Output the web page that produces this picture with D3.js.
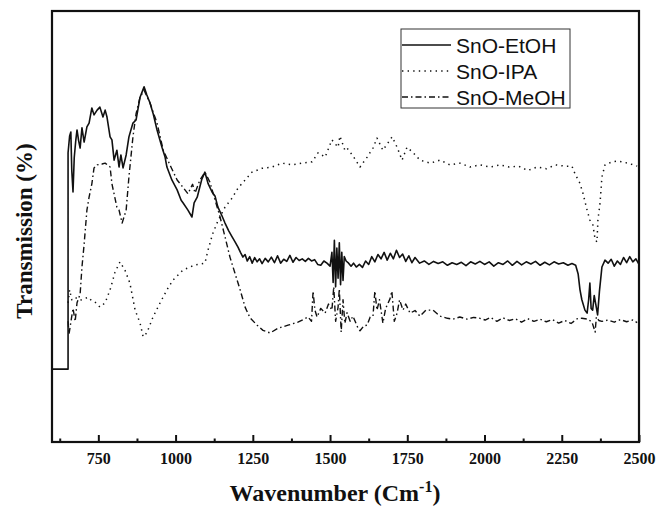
<!DOCTYPE html>
<html>
<head>
<meta charset="utf-8">
<script src="https://cdn.jsdelivr.net/npm/d3@7"></script>
<style>
  body { margin: 0; background: #fff; }
  svg { display: block; }
</style>
</head>
<body>
<svg id="chart" width="658" height="506"></svg>
<script>
// FTIR spectra, values (arbitrary transmission units)
const seriesNames = ["SnO-EtOH", "SnO-IPA", "SnO-MeOH"];
const majorTicks = [750, 1000, 1250, 1500, 1750, 2000, 2250, 2500];
const minorTicks = [625, 875, 1125, 1375, 1625, 1875, 2125, 2375];

const etoh = [[600,16.9],[652,16.9],[652,67.1],[657,71],[661,71.9],[664,63],[668,58.0],[672,66],[677,70],[681,72.4],[686,70],[691,68.2],[697,72.9],[704,69.6],[713,73.1],[720,74.0],[729,77.5],[736,75.9],[746,77.0],[755,77.7],[765,75.4],[772,77.0],[778,75.4],[788,70.8],[794,70.1],[801,65.4],[810,67.7],[817,63.8],[823,66.6],[830,63.6],[840,66.6],[849,70.8],[862,74.0],[872,74.7],[885,80.0],[898,82.4],[907,80.5],[917,78.7],[927,76.3],[940,72.4],[956,68.4],[966,66.1],[972,63.8],[988,60.8],[1005,58.5],[1018,56.1],[1024,55.5],[1040,53.8],[1053,52.2],[1060,55.5],[1070,56.8],[1085,61],[1095,62.6],[1105,60],[1118,58.0],[1128,57],[1137,54.5],[1150,52.5],[1160,50.8],[1172,49],[1183,47.6],[1192,46.5],[1202,45.2],[1210,44],[1218,42.9],[1225,43.5],[1232,42.0],[1240,43.0],[1248,41.5],[1256,42.8],[1264,41.8],[1272,42.5],[1280,41.4],[1290,42.6],[1300,41.8],[1310,42.9],[1320,41.6],[1330,43.2],[1340,41.5],[1350,42.4],[1360,41.9],[1370,43.3],[1380,41.7],[1390,42.8],[1400,42.1],[1410,42.5],[1420,41.9],[1430,42.6],[1440,42.0],[1450,42.3],[1460,41.2],[1470,41.0],[1480,42.0],[1490,41.5],[1500,40.8],[1506,44],[1510,37],[1514,46.8],[1518,36],[1522,45],[1526,38],[1530,46.2],[1534,36.5],[1538,44],[1542,37.5],[1546,43],[1552,42],[1560,41.5],[1568,40.8],[1576,41.5],[1585,40.6],[1595,41.2],[1605,40.5],[1615,42.0],[1625,41.2],[1635,43.0],[1645,41.8],[1655,43.5],[1665,42.5],[1675,44.0],[1685,42.2],[1695,43.8],[1705,42.5],[1715,44.5],[1725,42.8],[1735,43.6],[1745,41.9],[1755,43.2],[1765,41.6],[1775,42.8],[1790,41.5],[1805,42.0],[1820,41.2],[1835,41.9],[1850,41.4],[1865,41.8],[1880,41.0],[1895,41.6],[1910,41.2],[1925,41.7],[1940,40.9],[1955,41.8],[1970,41.3],[1985,41.9],[2000,41.2],[2015,41.8],[2030,40.8],[2045,41.6],[2060,41.2],[2075,42.0],[2090,41.0],[2105,41.9],[2120,41.1],[2135,41.8],[2150,41.3],[2165,41.9],[2180,41.0],[2195,41.7],[2210,41.1],[2225,41.8],[2240,41.3],[2255,41.6],[2270,41.0],[2283,41.4],[2295,41.0],[2303,39],[2309,35.3],[2315,33],[2325,30.6],[2332,29.9],[2337,33],[2341,36.9],[2345,31],[2350,30.6],[2355,34],[2360,32],[2366,29.5],[2372,35],[2380,40.6],[2390,42.2],[2400,41.5],[2410,42.4],[2420,40.8],[2430,42.0],[2440,41.2],[2450,42.8],[2460,41.6],[2470,43.0],[2480,41.8],[2490,42.5],[2500,41.2]];

const ipa = [[652,32.3],[657,35.3],[664,33.0],[674,33.6],[691,32.9],[704,33.2],[717,33.6],[728,32.8],[739,32.5],[755,31.3],[772,32.3],[788,35.3],[804,39.4],[820,41.8],[836,39.9],[852,36.9],[869,30.6],[885,27.6],[895,24.4],[907,25.3],[927,29.0],[950,32.3],[972,35.3],[992,37.6],[1024,39.9],[1063,41.1],[1079,41.3],[1095,41.5],[1105,44.5],[1120,48.3],[1137,51.3],[1160,54.5],[1183,56.6],[1202,58.9],[1225,60.8],[1247,62.6],[1280,63.5],[1312,63.8],[1344,64.7],[1377,64.3],[1409,64.7],[1442,65.0],[1461,67.1],[1484,66.1],[1506,70.1],[1526,68.4],[1532,71],[1548,67.7],[1555,68.2],[1574,66.4],[1597,63.8],[1620,66.1],[1639,68.2],[1652,70.5],[1671,67.7],[1701,70.8],[1717,68.4],[1733,65.4],[1749,68.4],[1768,67.2],[1791,65.4],[1824,64.7],[1856,65.4],[1888,64.3],[1921,64.7],[1953,63.8],[1985,64.3],[2018,63.8],[2050,64.3],[2080,63.8],[2110,64.0],[2140,63.0],[2170,63.8],[2200,63.4],[2230,64.3],[2260,64.0],[2283,64.0],[2293,62.2],[2309,60.0],[2319,57.6],[2332,53.8],[2341,51.5],[2351,50.3],[2358,47],[2364,46.4],[2367,51.5],[2374,55.5],[2380,61.5],[2390,64.3],[2413,65.0],[2432,65.2],[2464,64.7],[2494,64.0]];

const meoh = [[652,28],[655,25],[661,27.8],[668,31],[675,28],[681,32.3],[691,34.3],[697,40.6],[704,45.9],[713,53.8],[720,56.8],[729,59.9],[736,63.6],[746,64.3],[762,64.5],[772,64.7],[788,63.8],[794,59.9],[810,54.5],[817,53.8],[827,50.8],[840,53.8],[849,61.5],[862,70.8],[872,76.1],[885,80.0],[898,81.6],[917,78.7],[940,74.0],[960,67.7],[985,63.8],[1005,60.8],[1024,59.1],[1040,57.6],[1055,59.8],[1063,57.8],[1079,60.8],[1095,62.6],[1111,60.3],[1128,56.1],[1144,52.2],[1160,47.6],[1176,42.9],[1192,39.2],[1209,35.3],[1225,31.3],[1241,28.8],[1264,27.1],[1283,25.9],[1306,25.3],[1332,26.4],[1364,27.1],[1396,27.8],[1429,29.0],[1440,28],[1445,35],[1451,30.6],[1458,29],[1470,31],[1484,29.9],[1495,32],[1506,30.6],[1512,36],[1518,28],[1526,31.3],[1530,35.5],[1536,25.5],[1542,33],[1548,27.5],[1555,30],[1565,28],[1574,29.2],[1590,26.5],[1597,25.8],[1610,27],[1620,27.1],[1630,29],[1639,29.2],[1645,35],[1652,30.6],[1660,33],[1671,27.6],[1680,31],[1694,33.2],[1700,35],[1708,28],[1717,29.9],[1725,33],[1736,30.6],[1745,32],[1759,29.9],[1775,30.5],[1791,29.2],[1810,30.6],[1833,30.6],[1856,29.2],[1880,28.7],[1898,28.5],[1920,29.0],[1943,28.5],[1965,28.9],[1985,28.7],[2002,28.3],[2020,28.9],[2040,28.0],[2060,28.8],[2080,28.2],[2100,28.6],[2120,27.8],[2140,28.6],[2160,28.0],[2180,28.5],[2200,27.9],[2220,28.4],[2240,27.6],[2260,28.2],[2280,27.5],[2300,28.6],[2315,28.7],[2335,28.5],[2348,27.8],[2358,25.5],[2362,29],[2370,28.2],[2380,28.0],[2400,28.3],[2420,27.8],[2440,28.4],[2460,27.9],[2480,28.3],[2494,27.7]];

const W = 658, H = 506;
const margin = { left: 52, right: 19, top: 11, bottom: 64 };
const serif = "'Liberation Serif', 'Times New Roman', serif";

const svg = d3.select("#chart");

const x = d3.scaleLinear()
  .domain([600, 2500])
  .range([margin.left, W - margin.right]);

const y = d3.scaleLinear()
  .domain([0, 100])
  .range([H - margin.bottom, margin.top]);

const styles = [
  { data: etoh, dash: null, width: 1.6 },
  { data: ipa, dash: "1.4,4.2", width: 1.5 },
  { data: meoh, dash: "6,3,1.5,3", width: 1.4 }
];

const line = d3.line()
  .x(d => x(d[0]))
  .y(d => y(d[1]));

const plot = svg.append("g");

styles.forEach(s => {
  plot.append("path")
    .datum(s.data)
    .attr("d", line)
    .attr("fill", "none")
    .attr("stroke", "#111")
    .attr("stroke-width", s.width)
    .attr("stroke-dasharray", s.dash)
    .attr("stroke-linejoin", "round");
});

// frame
svg.append("rect")
  .attr("x", margin.left)
  .attr("y", margin.top)
  .attr("width", W - margin.left - margin.right)
  .attr("height", H - margin.top - margin.bottom)
  .attr("fill", "none")
  .attr("stroke", "#111")
  .attr("stroke-width", 2.2);

// bottom axis with inward ticks
const xAxis = svg.append("g")
  .attr("transform", `translate(0,${H - margin.bottom})`)
  .call(d3.axisBottom(x).tickValues(majorTicks).tickSize(-7).tickPadding(11).tickFormat(d3.format("d")));

xAxis.select(".domain").remove();
xAxis.selectAll(".tick line").attr("stroke", "#111").attr("stroke-width", 2);
xAxis.selectAll(".tick text")
  .attr("fill", "#111")
  .style("font-family", serif)
  .style("font-weight", "bold")
  .style("font-size", "16px");

const minor = svg.append("g")
  .attr("transform", `translate(0,${H - margin.bottom})`)
  .call(d3.axisBottom(x).tickValues(minorTicks).tickSize(-3.5).tickFormat(""));
minor.select(".domain").remove();
minor.selectAll(".tick line").attr("stroke", "#111").attr("stroke-width", 2);

// axis titles
const xTitle = svg.append("text")
  .attr("x", 335)
  .attr("y", 501)
  .attr("text-anchor", "middle")
  .style("font-family", serif)
  .style("font-weight", "bold")
  .style("font-size", "24px")
  .attr("fill", "#111");
xTitle.append("tspan").text("Wavenumber (Cm");
xTitle.append("tspan").attr("dy", -9).style("font-size", "16px").text("-1");
xTitle.append("tspan").attr("dy", 9).text(")");

svg.append("text")
  .attr("transform", `translate(32,231) rotate(-90)`)
  .attr("text-anchor", "middle")
  .style("font-family", serif)
  .style("font-weight", "bold")
  .style("font-size", "23px")
  .attr("fill", "#111")
  .text("Transmission (%)");

// legend
const legend = svg.append("g").attr("transform", "translate(401,29)");
legend.append("rect")
  .attr("width", 169)
  .attr("height", 79)
  .attr("fill", "#fff")
  .attr("stroke", "#333")
  .attr("stroke-width", 1);

seriesNames.forEach((name, i) => {
  const ly = 16 + i * 26;
  legend.append("line")
    .attr("x1", 1).attr("x2", 50)
    .attr("y1", ly).attr("y2", ly)
    .attr("stroke", "#111")
    .attr("stroke-width", styles[i].width)
    .attr("stroke-dasharray", styles[i].dash);
  legend.append("text")
    .attr("x", 55)
    .attr("y", ly)
    .attr("dy", "0.36em")
    .style("font-family", "'Liberation Sans', Arial, sans-serif")
    .style("font-size", "21px")
    .attr("fill", "#111")
    .text(name);
});
</script>
</body>
</html>
